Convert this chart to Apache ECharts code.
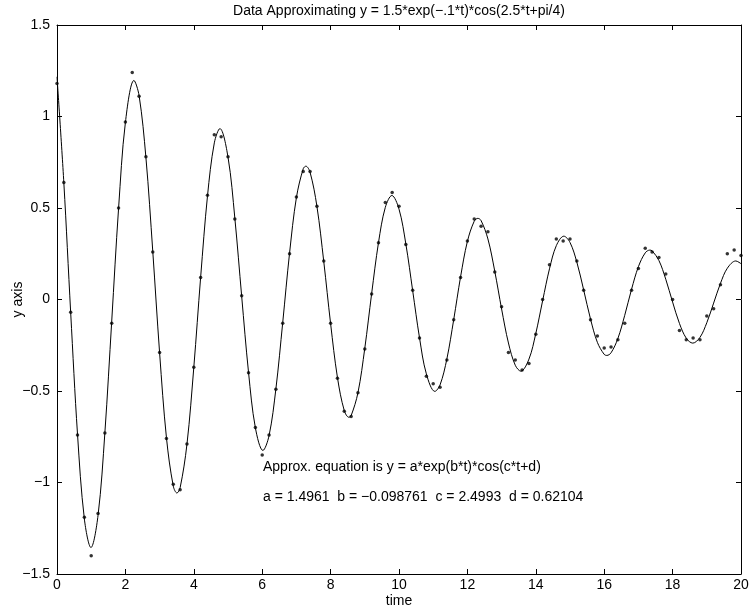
<!DOCTYPE html>
<html><head><meta charset="utf-8">
<script src="https://cdn.jsdelivr.net/npm/echarts@6/dist/echarts.min.js"></script>
<style>html,body{margin:0;padding:0;background:#fff}#c{width:756px;height:611px}</style>
</head><body><div id="c"></div>
<script>
// Measured data points (time, y)
const tData = [0,0.2,0.4,0.6,0.8,1,1.2,1.4,1.6,1.8,2,2.2,2.4,2.6,2.8,3,3.2,3.4,3.6,3.8,4,4.2,4.4,4.6,4.8,5,5.2,5.4,5.6,5.8,6,6.2,6.4,6.6,6.8,7,7.2,7.4,7.6,7.8,8,8.2,8.4,8.6,8.8,9,9.2,9.4,9.6,9.8,10,10.2,10.4,10.6,10.8,11,11.2,11.4,11.6,11.8,12,12.2,12.4,12.6,12.8,13,13.2,13.4,13.6,13.8,14,14.2,14.4,14.6,14.8,15,15.2,15.4,15.6,15.8,16,16.2,16.4,16.6,16.8,17,17.2,17.4,17.6,17.8,18,18.2,18.4,18.6,18.8,19,19.2,19.4,19.6,19.8,20];
const yData = [1.18,0.64,-0.07,-0.74,-1.19,-1.40,-1.17,-0.73,-0.13,0.50,
 0.97,1.24,1.11,0.78,0.26,-0.29,-0.76,-1.01,-1.04,-0.79,
 -0.37,0.12,0.57,0.90,0.89,0.78,0.44,0.02,-0.40,-0.70,
 -0.85,-0.74,-0.49,-0.13,0.25,0.56,0.70,0.70,0.51,0.21,
 -0.13,-0.43,-0.61,-0.64,-0.51,-0.27,0.03,0.31,0.53,0.585,
 0.51,0.30,0.05,-0.21,-0.42,-0.46,-0.48,-0.33,-0.11,0.12,
 0.32,0.44,0.40,0.37,0.15,-0.04,-0.29,-0.33,-0.385,-0.35,
 -0.19,0.00,0.19,0.33,0.32,0.33,0.21,0.05,-0.11,-0.20,
 -0.265,-0.26,-0.22,-0.13,0.05,0.17,0.28,0.26,0.23,0.14,
 0.00,-0.17,-0.22,-0.21,-0.22,-0.09,-0.05,0.08,0.25,0.27,
 0.24];
// Fitted curve (time, y)
const fitT = [0,0.2,0.4,0.6,0.8,0.9927,1.2,1.4,1.6,1.8,2,2.2497,2.4,2.6,2.8,3,3.2,3.4,3.5067,3.6,3.8,4,4.2,4.4,4.6,4.7637,5,5.2,5.4,5.6,5.8,6.0207,6.2,6.4,6.6,6.8,7,7.2,7.2777,7.4,7.6,7.8,8,8.2,8.4,8.5346,8.6,8.8,9,9.2,9.4,9.6,9.7916,10,10.2,10.4,10.6,10.8,11.0486,11.2,11.4,11.6,11.8,12,12.2,12.3056,12.4,12.6,12.8,13,13.2,13.4,13.5626,13.8,14,14.2,14.4,14.6,14.8196,15,15.2,15.4,15.6,15.8,16,16.0766,16.2,16.4,16.6,16.8,17,17.2,17.3336,17.4,17.6,17.8,18,18.2,18.4,18.5906,18.8,19,19.2,19.4,19.6,19.8476,20];
const fitY = [1.2168,0.6379,-0.0718,-0.7368,-1.1990,-1.3553,-1.1796,-0.7274,-0.1180,0.4962,0.9674,1.1971,1.1143,0.7759,0.2641,-0.2913,-0.7552,-1.0197,-1.0574,-1.0289,-0.7905,-0.3713,0.1208,0.5648,0.8559,0.9339,0.7779,0.4447,0.0175,-0.3973,-0.7006,-0.8249,-0.7442,-0.4889,-0.1260,0.2531,0.5567,0.7148,0.7286,0.6950,0.5090,0.2078,-0.1316,-0.4263,-0.6071,-0.6435,-0.6350,-0.5093,-0.2660,0.0317,0.3103,0.5036,0.5684,0.4940,0.3038,0.0480,-0.2094,-0.4065,-0.5021,-0.4669,-0.3244,-0.1095,0.1234,0.3176,0.4280,0.4434,0.4312,0.3308,0.1547,-0.0517,-0.2377,-0.3594,-0.3917,-0.3257,-0.1856,-0.0064,0.1675,0.2943,0.3460,0.3117,0.2043,0.0519,-0.1070,-0.2340,-0.3000,-0.3056,-0.2913,-0.2129,-0.0864,0.0559,0.1793,0.2549,0.2699,0.2662,0.2132,0.1109,-0.0140,-0.1307,-0.2115,-0.2384,-0.2069,-0.1269,-0.0196,0.0884,0.1708,0.2106,0.1956];
// Axis ticks
const xTicks = [0,2,4,6,8,10,12,14,16,18,20];
const yTicks = [-1.5,-1,-0.5,0,0.5,1,1.5];
// Texts
const titleText = 'Data Approximating y = 1.5*exp(\u2212.1*t)*cos(2.5*t+pi/4)';
const xName = 'time';
const yName = 'y axis';
const noteLines = ['Approx. equation is y = a*exp(b*t)*cos(c*t+d)',
                   'a = 1.4961  b = \u22120.098761  c = 2.4993  d = 0.62104'];

const FONT = '"Liberation Sans", Arial, Helvetica, sans-serif';
const FS = 14;
const fmt = v => (v < 0 ? '\u2212' + String(Math.abs(v)) : String(v));

const G = {left: 57, right: 15, top: 25, bottom: 37};
const W = 756, H = 611;
const plotCx = G.left + (W - G.left - G.right) / 2;
const plotCy = G.top + (H - G.top - G.bottom) / 2;

function axisBase(type, min, max, interval, position, showLabel) {
  return {
    type: 'value', min: min, max: max, interval: interval, position: position,
    axisLine: {show: true, onZero: false, lineStyle: {color: '#000', width: 1}},
    axisTick: {show: true, inside: true, length: 5, lineStyle: {color: '#000', width: 1}},
    axisLabel: {show: showLabel, color: '#000', fontSize: FS, fontFamily: FONT,
                margin: type === 'x' ? 4 : 7, formatter: fmt,
                showMinLabel: true, showMaxLabel: true, hideOverlap: false},
    splitLine: {show: false}
  };
}

const chart = echarts.init(document.getElementById('c'), null, {renderer: 'canvas'});
chart.setOption({
  animation: false,
  backgroundColor: '#fff',
  grid: {left: G.left, right: G.right, top: G.top, bottom: G.bottom, containLabel: false, outerBoundsMode: 'none'},
  xAxis: [
    axisBase('x', xTicks[0], xTicks[xTicks.length - 1], xTicks[1] - xTicks[0], 'bottom', true),
    axisBase('x', xTicks[0], xTicks[xTicks.length - 1], xTicks[1] - xTicks[0], 'top', false)
  ],
  yAxis: [
    axisBase('y', yTicks[0], yTicks[yTicks.length - 1], yTicks[1] - yTicks[0], 'left', true),
    axisBase('y', yTicks[0], yTicks[yTicks.length - 1], yTicks[1] - yTicks[0], 'right', false)
  ],
  series: [
    {
      type: 'line', xAxisIndex: 0, yAxisIndex: 0,
      data: fitT.map((t, i) => [t, fitY[i]]),
      smooth: 0.35, showSymbol: false, symbol: 'none',
      lineStyle: {color: '#000', width: 1}, z: 2
    },
    {
      type: 'scatter', xAxisIndex: 0, yAxisIndex: 0,
      data: tData.map((t, i) => [t, yData[i]]),
      symbol: 'circle', symbolSize: 3.5,
      itemStyle: {color: '#000'}, z: 3
    }
  ],
  graphic: [
    {type: 'text', x: plotCx, y: 11, style: {text: titleText, fill: '#000', font: FS + 'px ' + FONT, textAlign: 'center', textVerticalAlign: 'middle'}},
    {type: 'text', x: plotCx, y: 601, style: {text: xName, fill: '#000', font: FS + 'px ' + FONT, textAlign: 'center', textVerticalAlign: 'middle'}},
    {type: 'text', x: 18, y: plotCy, rotation: Math.PI / 2, style: {text: yName, fill: '#000', font: FS + 'px ' + FONT, textAlign: 'center', textVerticalAlign: 'middle'}},
    {type: 'text', x: 263, y: 467, style: {text: noteLines[0], fill: '#000', font: FS + 'px ' + FONT, textAlign: 'left', textVerticalAlign: 'middle'}},
    {type: 'text', x: 263, y: 497, style: {text: noteLines[1], fill: '#000', font: FS + 'px ' + FONT, textAlign: 'left', textVerticalAlign: 'middle'}}
  ]
});
</script>
</body></html>
